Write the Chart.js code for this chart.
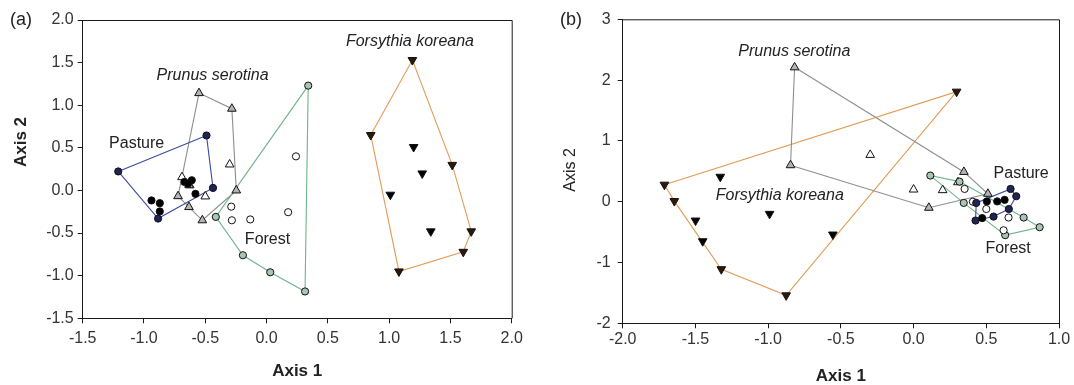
<!DOCTYPE html>
<html><head><meta charset="utf-8">
<script src="https://cdn.jsdelivr.net/npm/chart.js@4.4.0/dist/chart.umd.min.js"></script>
<style>
html,body{margin:0;padding:0;background:#fff;width:1074px;height:385px;overflow:hidden}
#wa{position:absolute;left:0;top:0;width:540px;height:385px}
#wb{position:absolute;left:540px;top:0;width:534px;height:385px}
</style></head><body>
<div id="wa"><canvas id="ca"></canvas></div>
<div id="wb"><canvas id="cb"></canvas></div>
<script>
// ---------- Panel (a) data: [Axis 1, Axis 2] ----------
const aPasture   = [[-0.49,0.645],[-1.21,0.223],[-0.437,0.03],[-0.885,-0.33],[-0.939,-0.117],[-0.871,-0.149],[-0.871,-0.246],[-0.67,0.10],[-0.61,0.12],[-0.64,0.08],[-0.58,-0.04]];
const aForest    = [[0.34,1.23],[0.24,0.40],[-0.414,-0.31],[-0.288,-0.19],[-0.283,-0.35],[-0.133,-0.34],[0.176,-0.255],[-0.193,-0.76],[0.03,-0.96],[0.314,-1.185]];
const aPrunus    = [[-0.551,1.142],[-0.283,0.959],[-0.301,0.305],[-0.247,0.0],[-0.69,0.156],[-0.627,0.06],[-0.722,-0.067],[-0.5,-0.07],[-0.633,-0.195],[-0.524,-0.35],[-0.633,0.067]];
const aForsythia = [[1.19,1.53],[0.85,0.65],[1.20,0.51],[1.515,0.30],[1.27,0.20],[1.01,-0.05],[1.34,-0.48],[1.67,-0.48],[1.605,-0.72],[1.08,-0.95]];
const aXTickLabels = ['-1.5','-1.0','-0.5','0.0','0.5','1.0','1.5','2.0'];
const aYTickLabels = ['-1.5','-1.0','-0.5','0.0','0.5','1.0','1.5','2.0'];

// ---------- Panel (b) data ----------
const bPasture   = [[0.667,0.21],[0.706,0.09],[0.504,0.005],[0.575,0.005],[0.431,-0.02],[0.426,-0.31],[0.472,-0.27],[0.55,-0.245],[0.655,-0.12],[0.626,0.03]];
const bForest    = [[0.115,0.43],[0.351,0.21],[0.345,-0.02],[0.408,0.0],[0.5,-0.12],[0.653,-0.26],[0.757,-0.26],[0.867,-0.42],[0.63,-0.55],[0.619,-0.47],[0.316,0.33]];
const bPrunus    = [[-0.818,2.21],[-0.846,0.60],[-0.298,0.77],[0.346,0.49],[0.0,0.20],[0.20,0.19],[0.105,-0.10],[0.305,0.32],[0.511,0.13]];
const bForsythia = [[-1.713,0.28],[-1.645,0.01],[-1.499,-0.31],[-1.45,-0.65],[-1.329,0.41],[-1.322,-1.11],[-0.99,-0.20],[-0.876,-1.54],[-0.555,-0.54],[0.296,1.81]];
const bXTickLabels = ['-2.0','-1.5','-1.0','-0.5','0.0','0.5','1.0'];
const bYTickLabels = ['-2','-1','0','1','2','3'];

const FONT = "'Liberation Sans', Arial, sans-serif";

function hullIdx(pts){
  const idx = pts.map((p,i)=>i).sort((a,b)=>pts[a][0]-pts[b][0] || pts[a][1]-pts[b][1]);
  const cr=(o,a,b)=>(pts[a][0]-pts[o][0])*(pts[b][1]-pts[o][1])-(pts[a][1]-pts[o][1])*(pts[b][0]-pts[o][0]);
  const lo=[]; for(const i of idx){while(lo.length>=2&&cr(lo[lo.length-2],lo[lo.length-1],i)<=0)lo.pop();lo.push(i);}
  const up=[]; for(const i of idx.slice().reverse()){while(up.length>=2&&cr(up[up.length-2],up[up.length-1],i)<=0)up.pop();up.push(i);}
  lo.pop(); up.pop(); return lo.concat(up);
}

function groupSets(pts, st){
  const h = hullIdx(pts);
  const hs = new Set(h);
  const poly = h.concat([h[0]]).map(i=>({x:pts[i][0],y:pts[i][1]}));
  return [
    {data: pts.map(p=>({x:p[0],y:p[1]})), order:1, showLine:false,
     pointStyle: st.style, rotation: st.rot||0, pointRadius: st.r, pointHoverRadius: st.r,
     pointBorderColor:'#111', pointBorderWidth:1,
     pointBackgroundColor: c => hs.has(c.dataIndex) ? st.tint : st.fill},
    {data: poly, order:2, showLine:true, borderColor: st.line, borderWidth:1.1,
     pointRadius:0, pointHoverRadius:0, fill:false, tension:0}
  ];
}

const ST = {
  pasture:  {style:'circle', r:3.6, fill:'#000', tint:'#1e2454', line:'#3a4aa0'},
  forest:   {style:'circle', r:3.6, fill:'#fff', tint:'#a8c6b2', line:'#6db58c'},
  prunus:   {style:'triangle', r:5, fill:'#fff', tint:'#b4b4b4', line:'#8e8e8e'},
  forsythia:{style:'triangle', r:5, rot:180, fill:'#000', tint:'#2a1a0a', line:'#e39b55'}
};

const deco = {
  id:'deco',
  afterDraw(chart, args, o){
    const {ctx, chartArea:a, scales:{x,y}} = chart;
    ctx.save();
    ctx.strokeStyle='#1a1a1a'; ctx.lineWidth=1;
    ctx.beginPath();
    ctx.moveTo(a.left, a.top+0.5); ctx.lineTo(a.right+0.5, a.top+0.5); ctx.lineTo(a.right+0.5, a.bottom);
    ctx.stroke();
    ctx.fillStyle='#222'; ctx.textAlign='center'; ctx.textBaseline='middle';
    for(const l of o.labels){
      ctx.font = (l.it?'italic ':'') + '16px ' + FONT;
      ctx.fillText(l.t, x.getPixelForValue(l.x), y.getPixelForValue(l.y));
    }
    ctx.fillStyle='#222';
    ctx.font = 'bold 17px ' + FONT;
    ctx.fillText('Axis 1', (a.left+a.right)/2, o.xTitleY);
    ctx.font = o.yTitleFont + FONT;
    ctx.save(); ctx.translate(o.yTitleX, o.yTitleY); ctx.rotate(-Math.PI/2); ctx.fillText('Axis 2',0,0); ctx.restore();
    ctx.font = '18px ' + FONT;
    ctx.fillText(o.letter, o.letterX, o.letterY);
    ctx.restore();
  }
};

function makeChart(id, groups, xl, yl, opt){
  const datasets = [];
  groups.forEach(g=>datasets.push(...groupSets(g[0], g[1])));
  const xv = xl.map(parseFloat), yv = yl.map(parseFloat);
  return new Chart(document.getElementById(id), {
    type:'scatter',
    data:{datasets},
    plugins:[deco],
    options:{
      responsive:true, maintainAspectRatio:false, animation:false,
      layout:{padding:{left:0, top:opt.top, right:opt.right, bottom:0}},
      plugins:{legend:{display:false}, tooltip:{enabled:false}, deco:opt.deco},
      scales:{
        x:{type:'linear', min:xv[0], max:xv[xv.length-1],
           afterBuildTicks:s=>{s.ticks = xv.map(v=>({value:v}));},
           afterFit:s=>{s.height = opt.xh;},
           ticks:{callback:(v,i)=>xl[i], font:{family:FONT,size:16}, color:'#333', padding:opt.xpad, maxRotation:0, autoSkip:false},
           grid:{drawOnChartArea:false, drawTicks:true, tickLength:5, color:'#1a1a1a'},
           border:{display:true, color:'#1a1a1a'}},
        y:{type:'linear', min:yv[0], max:yv[yv.length-1],
           afterBuildTicks:s=>{s.ticks = yv.map(v=>({value:v}));},
           afterFit:s=>{s.width = opt.yw;},
           ticks:{callback:(v,i)=>yl[i], font:{family:FONT,size:16}, color:'#333', padding:opt.ypad, autoSkip:false},
           grid:{drawOnChartArea:false, drawTicks:true, tickLength:5, color:'#1a1a1a'},
           border:{display:true, color:'#1a1a1a'}}
      }
    }
  });
}

makeChart('ca', [[aPasture,ST.pasture],[aForest,ST.forest],[aPrunus,ST.prunus],[aForsythia,ST.forsythia]],
  aXTickLabels, aYTickLabels,
  {top:20, right:28.3, xh:66.7, yw:82.7, xpad:6, ypad:4,
   deco:{letter:'(a)', letterX:21, letterY:20, xTitleY:371, yTitleX:21, yTitleY:142, yTitleFont:'bold 17px ',
     labels:[{t:'Prunus serotina',x:-0.44,y:1.35,it:true},{t:'Pasture',x:-1.06,y:0.55},
             {t:'Forest',x:0.008,y:-0.575},{t:'Forsythia koreana',x:1.17,y:1.75,it:true}]}});

makeChart('cb', [[bPasture,ST.pasture],[bForest,ST.forest],[bPrunus,ST.prunus],[bForsythia,ST.forsythia]],
  bXTickLabels, bYTickLabels,
  {top:19.3, right:15, xh:61.7, yw:82.7, xpad:2, ypad:7,
   deco:{letter:'(b)', letterX:31, letterY:20, xTitleY:376, yTitleX:31, yTitleY:170, yTitleFont:'16px ',
     labels:[{t:'Prunus serotina',x:-0.82,y:2.47,it:true},{t:'Forsythia koreana',x:-0.92,y:0.10,it:true},
             {t:'Pasture',x:0.74,y:0.46},{t:'Forest',x:0.65,y:-0.77}]}});
</script>
</body></html>
